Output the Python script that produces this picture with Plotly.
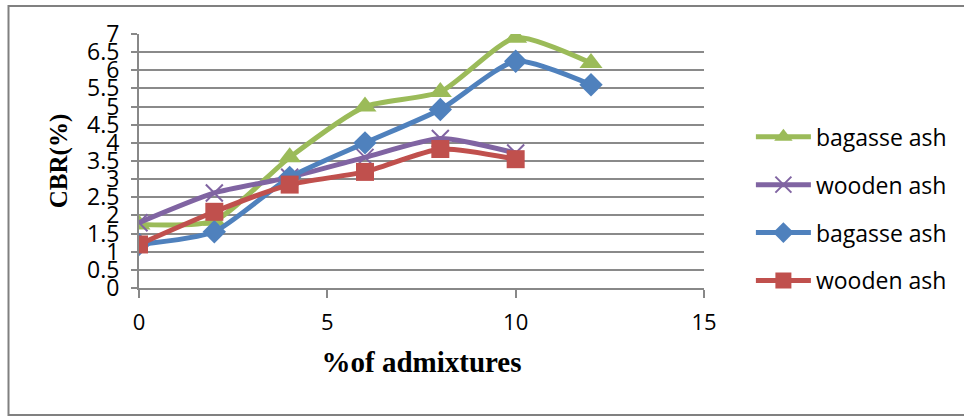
import plotly.graph_objects as go

x_green = [0, 2, 4, 6, 8, 10, 12]
y_green = [1.75, 1.85, 3.6, 5.0, 5.4, 6.9, 6.2]
x_purple = [0, 2, 4, 6, 8, 10]
y_purple = [1.8, 2.62, 3.05, 3.6, 4.12, 3.72]
x_blue = [0, 2, 4, 6, 8, 10, 12]
y_blue = [1.2, 1.55, 3.05, 4.0, 4.92, 6.25, 5.6]
x_red = [0, 2, 4, 6, 8, 10]
y_red = [1.2, 2.1, 2.85, 3.2, 3.83, 3.55]
names = ["bagasse ash", "wooden ash", "bagasse ash", "wooden ash"]
y_ticks = [0, 0.5, 1, 1.5, 2, 2.5, 3, 3.5, 4, 4.5, 5, 5.5, 6, 6.5, 7]
x_ticks = [0, 5, 10, 15]

GREEN = "#9BBB59"
PURPLE = "#8064A2"
BLUE = "#4F81BD"
RED = "#C0504D"

fig = go.Figure()
series = [
    (x_green, y_green, names[0], GREEN, dict(symbol="triangle-up", size=20, color=GREEN), "g1"),
    (x_purple, y_purple, names[1], PURPLE, dict(symbol="x-thin", size=17, color=PURPLE, line=dict(color=PURPLE, width=2)), "g2"),
    (x_blue, y_blue, names[2], BLUE, dict(symbol="diamond", size=18, color=BLUE), "g3"),
    (x_red, y_red, names[3], RED, dict(symbol="square", size=18, color=RED), "g4"),
]
for xs, ys, nm, col, mk, grp in series:
    fig.add_trace(go.Scatter(
        x=xs, y=ys, name=nm, mode="lines+markers",
        line=dict(color=col, width=5, shape="spline", smoothing=0.6),
        marker=mk, legendgroup=grp,
    ))

fx = lambda px: (px - 139) / 565
fy = lambda py: (288 - py) / 254
border = dict(color="#808080", width=2)
fig.update_layout(
    width=964, height=419,
    margin=dict(l=139, r=260, t=34, b=131),
    paper_bgcolor="white", plot_bgcolor="white",
    showlegend=True,
    legend=dict(
        x=1.083, y=0.68, xanchor="left", yanchor="top",
        font=dict(family="Open Sans, Liberation Sans, sans-serif", size=23, color="black"),
        traceorder="grouped", tracegroupgap=15, itemwidth=55,
        bgcolor="rgba(0,0,0,0)",
    ),
    font=dict(family="Open Sans, Liberation Sans, sans-serif", color="black"),
    shapes=[
        dict(type="rect", xref="paper", yref="paper",
             x0=fx(8.5), x1=fx(990), y0=fy(415), y1=fy(6),
             line=border, fillcolor="rgba(0,0,0,0)", layer="above"),
    ],
)
fig.update_xaxes(
    range=[0, 15], tickvals=x_ticks, ticktext=[str(v) for v in x_ticks],
    automargin=False,
    showgrid=False, zeroline=False, showline=True, linecolor="#888888", linewidth=2,
    ticks="outside", ticklen=8, tickwidth=2, tickcolor="#888888",
    tickfont=dict(size=22), ticklabelstandoff=6,
    title=dict(text="<b>%of admixtures</b>", font=dict(family="Liberation Serif, Times New Roman, serif", size=29), standoff=16),
)
fig.update_yaxes(
    range=[0, 7], tickvals=y_ticks, ticktext=[("%g" % v) for v in y_ticks],
    automargin=False,
    showgrid=True, gridcolor="#8a8a8a", gridwidth=2, zeroline=False,
    showline=True, linecolor="#888888", linewidth=2,
    ticks="outside", ticklen=6, tickwidth=2, tickcolor="#888888",
    tickfont=dict(size=23), ticklabelstandoff=7,
    title=dict(text="<b>CBR(%)</b>", font=dict(family="Liberation Serif, Times New Roman, serif", size=25), standoff=12),
)
fig.write_html("out.html", config={"displayModeBar": False},
               post_script="document.body.style.margin='0';")
